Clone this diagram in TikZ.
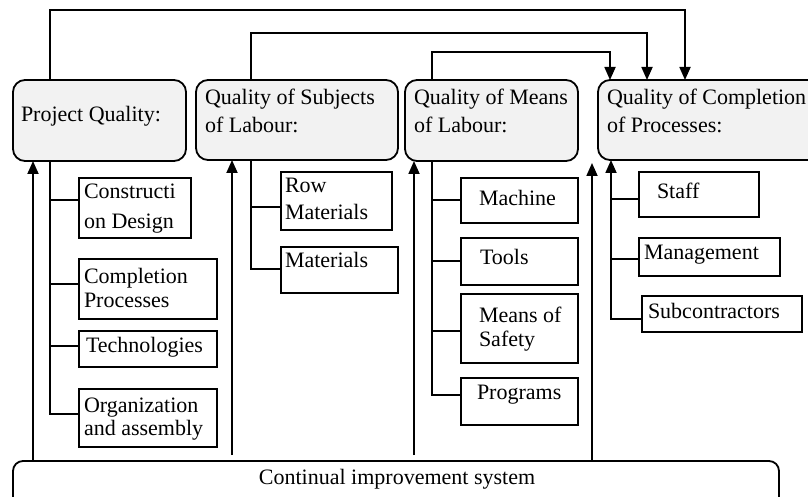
\documentclass[tikz,border=0pt]{standalone}
\usepackage{fontspec}
\setmainfont{Liberation Serif}
\usetikzlibrary{arrows.meta}
\newcommand{\mytwolines}[3]{\vtop{\baselineskip=#3\hbox{#1}\hbox{#2}}}
\begin{document}
\begin{tikzpicture}[x=1pt,y=-1pt,
  lw/.style={line width=1.8pt},
  bigbox/.style={draw, lw, fill=black!5, rounded corners=12pt, inner sep=0pt, outer sep=0pt},
  subbox/.style={draw, lw, inner sep=0pt, outer sep=0pt},
  txt/.style={inner sep=0pt, outer sep=0pt, anchor=base west, font=\fontsize{22}{28}\selectfont},
  conn/.style={lw},
  arr/.style={lw, -{Triangle[length=13pt,width=11pt]}}]
\useasboundingbox (0,0) rectangle (808,497);
\clip (0,0) rectangle (808,497);
% main boxes
\node[bigbox, minimum width=173pt, minimum height=81pt] (pq) at (99.5,120.5) {};
\node[bigbox, minimum width=202pt, minimum height=80pt] (sl) at (297,120) {};
\node[bigbox, minimum width=173pt, minimum height=81pt] (ml) at (491.5,120.5) {};
\node[bigbox, minimum width=225pt, minimum height=80pt] (cp) at (710.5,120) {};
\node[bigbox, rounded corners=10pt, fill=white, minimum width=766pt, minimum height=60pt] (cis) at (396,491) {};
% sub boxes
\node[subbox, minimum width=112pt, minimum height=60pt] (cd) at (135,208) {};
\node[subbox, minimum width=138pt, minimum height=60pt] (cpr) at (148,289) {};
\node[subbox, minimum width=138pt, minimum height=36pt] (tech) at (148,349) {};
\node[subbox, minimum width=138pt, minimum height=58pt] (org) at (148,418) {};
\node[subbox, minimum width=111pt, minimum height=58pt] (row) at (336.5,201) {};
\node[subbox, minimum width=117pt, minimum height=46pt] (mat) at (339.5,270) {};
\node[subbox, minimum width=117pt, minimum height=45pt] (mach) at (519.5,200.5) {};
\node[subbox, minimum width=117pt, minimum height=47pt] (tools) at (519.5,261.5) {};
\node[subbox, minimum width=117pt, minimum height=69pt] (safe) at (519.5,328.5) {};
\node[subbox, minimum width=117pt, minimum height=47pt] (prog) at (519.5,401.5) {};
\node[subbox, minimum width=120pt, minimum height=45pt] (staff) at (699,194.5) {};
\node[subbox, minimum width=141pt, minimum height=38pt] (mgmt) at (709.5,257) {};
\node[subbox, minimum width=160pt, minimum height=36pt] (subc) at (722,314) {};
% texts
\node[txt] (tpq) at (21,122) {Project Quality:};
\node[txt] (tsl) at (205,105) {\mytwolines{Quality of Subjects}{of Labour:}{28pt}};
\node[txt] (tml) at (414,105) {\mytwolines{Quality of Means}{of Labour:}{28pt}};
\node[txt] (tcp) at (607,105) {\mytwolines{Quality of Completion}{of Processes:}{28pt}};
\node[txt] (tcd) at (84,199) {\mytwolines{Constructi}{on Design}{29pt}};
\node[txt] (tcpr) at (84,283) {\mytwolines{Completion}{Processes}{24pt}};
\node[txt] (ttech) at (86,352) {Technologies};
\node[txt] (torg) at (84,412) {\mytwolines{Organization}{and assembly}{23pt}};
\node[txt] (trow) at (285,193) {\mytwolines{Row}{Materials}{27pt}};
\node[txt] (tmat) at (285,267) {Materials};
\node[txt] (tmach) at (479,205) {Machine};
\node[txt] (ttools) at (480,264) {Tools};
\node[txt] (tsafe) at (479,322) {\mytwolines{Means of}{Safety}{24pt}};
\node[txt] (tprog) at (477,399) {Programs};
\node[txt] (tstaff) at (657,198) {Staff};
\node[txt] (tmgmt) at (644,259) {Management};
\node[txt] (tsubc) at (648,318) {Subcontractors};
\node[txt, anchor=base] (tcis) at (397,484) {Continual improvement system};
% coordinates
\coordinate (xa) at (50,0);
\coordinate (xb) at (251,0);
\coordinate (xc) at (432,0);
\coordinate (xd) at (611,0);
\coordinate (ua) at (232,455);
\coordinate (uc) at (414,455);
\coordinate (ue) at (592,163);
% top feedback arrows
\draw[arr] (pq.north -| xa) -- (50,10) -| (cp.north -| 685,0);
\draw[arr] (sl.north -| xb) -- (251,33) -| (cp.north -| 647,0);
\draw[arr] (ml.north -| xc) -- (432,52) -| (cp.north -| 610,0);
% upward arrows from bottom
\draw[arr] (cis.north -| 33,0) -- (pq.south -| 33,0);
\draw[arr] (ua) -- (sl.south -| ua);
\draw[arr] (uc) -- (ml.south -| uc);
\draw[arr] (cis.north -| ue) -- (ue);
% branches
\draw[conn] (pq.south -| xa) -- (xa |- 0,414) -- (org.west |- 0,414);
\draw[conn] (xa |- 0,200) -- (cd.west |- 0,200);
\draw[conn] (xa |- 0,284) -- (cpr.west |- 0,284);
\draw[conn] (xa |- 0,346) -- (tech.west |- 0,346);
\draw[conn] (sl.south -| xb) -- (xb |- 0,269) -- (mat.west |- 0,269);
\draw[conn] (xb |- 0,207) -- (row.west |- 0,207);
\draw[conn] (ml.south -| xc) -- (xc |- 0,395) -- (prog.west |- 0,395);
\draw[conn] (xc |- 0,200) -- (mach.west |- 0,200);
\draw[conn] (xc |- 0,261) -- (tools.west |- 0,261);
\draw[conn] (xc |- 0,331) -- (safe.west |- 0,331);
\draw[arr] (subc.west |- 0,319) -- (xd |- 0,319) -- (cp.south -| xd);
\draw[conn] (xd |- 0,199) -- (staff.west |- 0,199);
\draw[conn] (xd |- 0,259) -- (mgmt.west |- 0,259);
\end{tikzpicture}
\end{document}
